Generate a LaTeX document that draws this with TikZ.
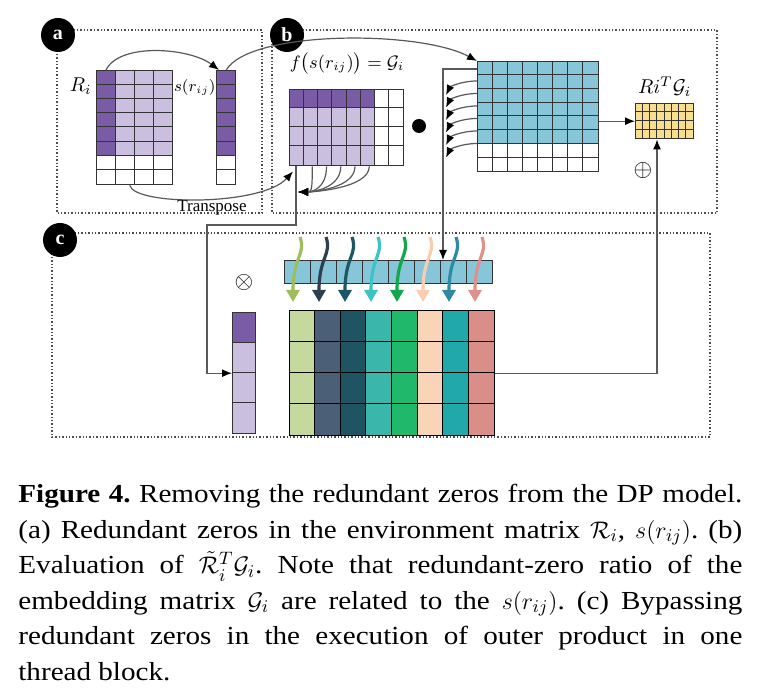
\documentclass[tikz,border=0pt]{standalone}
\usepackage{amsmath,amssymb}
\usepackage{fontspec}
\setmainfont{Liberation Serif}
\newfontfamily\capfont{Liberation Serif}[FakeStretch=1.12]
\usetikzlibrary{arrows.meta, positioning, calc}

\newcommand{\capline}[1]{\makebox[362pt][s]{#1}}

\definecolor{dpurple}{HTML}{7A5BA6}
\definecolor{lpurple}{HTML}{CBBFE0}
\definecolor{cellblue}{HTML}{86C6D8}
\definecolor{cellyel}{HTML}{F7DF8F}
\definecolor{gridc}{HTML}{333333}
% flow arrows
\definecolor{fa}{HTML}{9DBE5A}
\definecolor{fb}{HTML}{2F3F52}
\definecolor{fc}{HTML}{1F5664}
\definecolor{fd}{HTML}{3CC3C3}
\definecolor{fe}{HTML}{10A84A}
\definecolor{ff}{HTML}{F9CDB0}
\definecolor{fg}{HTML}{2E8AA3}
\definecolor{fh}{HTML}{E0908A}
% outer product columns
\definecolor{ca}{HTML}{C5D89E}
\definecolor{cb}{HTML}{4B6077}
\definecolor{cc}{HTML}{1F5562}
\definecolor{cd}{HTML}{3BB6AA}
\definecolor{ce}{HTML}{20B96B}
\definecolor{cf}{HTML}{FAD4B6}
\definecolor{cg}{HTML}{21A8A8}
\definecolor{ch}{HTML}{D98F88}

\begin{document}
\begin{tikzpicture}[x=0.5pt, y=-0.5pt,
    panel/.style={densely dotted, draw=black!70, line width=0.7pt},
    tag/.style={circle, fill=black, text=white, font=\bfseries\fontsize{10}{10}\selectfont, minimum size=17pt, inner sep=0pt},
    mat/.style={draw=gridc, line width=0.7pt, inner sep=0pt, anchor=north west},
    cell/.style={draw=gridc, line width=0.5pt},
    arrow/.style={-{Latex[length=5pt, width=4pt, color=black]}, draw=black!65, line width=0.6pt},
    lbl/.style={font=\fontsize{9}{11}\selectfont, inner sep=1pt},
    flow/.style={line width=1.6pt, -{Triangle[length=6pt, width=6.5pt]}}]

    \useasboundingbox (0,0) rectangle (766,694);

    % panels
    \draw[panel] (57,30) rectangle (262,213);
    \draw[panel] (272,30) rectangle (717,213);
    \draw[panel] (52,233) rectangle (710,437);
    \node[tag] (ta) at (58,35) {a};
    \node[tag] (tb) at (287,35) {b};
    \node[tag] (tc) at (60,240) {c};

    % (a) R_i and s(r_ij)
    \fill[dpurple] (96,70) rectangle (115,155.5);
    \fill[lpurple] (115,70) rectangle (172,155.5);
    \foreach \x in {115,134,153} \draw[cell] (\x,70) -- (\x,184);
    \foreach \k in {1,...,7} \draw[cell] (96,{70+14.25*\k}) -- (172,{70+14.25*\k});
    \node[mat, minimum width=38pt, minimum height=57pt] (Ri) at (96,70) {};
    \node[lbl, font=\fontsize{10}{12}\selectfont, anchor=east] (RiL) at (94,86) {$R_i$};

    \fill[dpurple] (216,70) rectangle (235,155.5);
    \foreach \k in {1,...,7} \draw[cell] (216,{70+14.25*\k}) -- (235,{70+14.25*\k});
    \node[mat, minimum width=9.5pt, minimum height=57pt] (sr) at (216,70) {};
    \node[lbl, font=\fontsize{7.8}{10}\selectfont, inner sep=0pt, anchor=east] (srL) at (216,88) {$s(r_{ij})$};

    % (b) G_i
    \fill[dpurple] (289,89) rectangle (374.5,108);
    \fill[lpurple] (289,108) rectangle (374.5,165);
    \foreach \k in {1,...,7} \draw[cell] ({289+14.25*\k},89) -- ({289+14.25*\k},165);
    \foreach \k in {1,2,3} \draw[cell] (289,{89+19*\k}) -- (403,{89+19*\k});
    \node[mat, minimum width=57pt, minimum height=38pt] (Gm) at (289,89) {};
    \node[lbl] (GmL) at (347,64) {$f\bigl(s(r_{ij})\bigr)=\mathcal{G}_i$};
    \foreach \k in {1,...,5}
        \draw[arrow] ($(Gm.south west)+({9+14.25*\k},0)$) .. controls ++(0,22) and (312,192) .. (298,192);

    \node[circle, fill=black, minimum size=7pt, inner sep=0pt] (dot) at (419,126) {};

    % (b) embedding matrix
    \fill[cellblue] (477,61) rectangle (598,143.5);
    \foreach \k in {1,...,7} \draw[cell] ({477+15.125*\k},61) -- ({477+15.125*\k},171);
    \foreach \k in {1,...,7} \draw[cell] (477,{61+13.75*\k}) -- (598,{61+13.75*\k});
    \node[mat, minimum width=60.5pt, minimum height=55pt] (Bm) at (477,61) {};
    \foreach \k in {0,...,5}
        \draw[arrow] ($(Bm.north west)+(0,{20+12.5*\k})$) .. controls ++(-16,0) and ++(4,-8) .. ++(-31,14);

    % (a) connectors
    \draw[arrow] ($(Ri.north west)+(10,0)$) .. controls (120,42) and (190,48) .. ($(sr.north west)+(3,0)$);
    \draw[arrow] (sr.north) .. controls (250,30) and (420,30) .. (Bm.north west);
    \draw[arrow] ($(Ri.south)+(-5,0)$) .. controls (135,206) and (262,206) .. ($(Gm.south west)+(4,5)$);
    \node[lbl, font=\fontsize{8.5}{10}\selectfont] (trL) at (212,208) {Transpose};

    % (b) result R_i^T G_i
    \fill[cellyel] (635,103) rectangle (693,138);
    \foreach \k in {1,...,7} \draw[cell] ({635+7.25*\k},103) -- ({635+7.25*\k},138);
    \foreach \k in {1,2,3} \draw[cell] (635,{103+8.75*\k}) -- (693,{103+8.75*\k});
    \node[mat, minimum width=29pt, minimum height=17.5pt] (Ym) at (635,103) {};
    \node[lbl, font=\fontsize{10}{12}\selectfont, above=2pt of Ym] (YmL) {$Ri^T\mathcal{G}_i$};
    \draw[arrow] (Bm.east |- Ym.west) -- (Ym.west);
    \node[font=\fontsize{12}{12}\selectfont, inner sep=0pt] (plus) at (643,171) {$\oplus$};

    % (c) purple column
    \fill[dpurple] (232,312) rectangle (255,342.25);
    \fill[lpurple] (232,342.25) rectangle (255,433);
    \foreach \k in {1,2,3} \draw[cell] (232,{312+30.25*\k}) -- (255,{312+30.25*\k});
    \node[mat, minimum width=11.5pt, minimum height=60.5pt] (Pc) at (232,312) {};
    \node[font=\fontsize{12}{12}\selectfont, inner sep=0pt] (times) at (244,283) {$\otimes$};

    % (c) row bar
    \fill[cellblue] (284,260) rectangle (492,283);
    \foreach \k in {1,...,7} \draw[cell] ({284+26*\k},260) -- ({284+26*\k},283);
    \node[mat, minimum width=104pt, minimum height=11.5pt] (Bar) at (284,260) {};

    % (c) outer product
    \foreach \k/\col in {0/ca,1/cb,2/cc,3/cd,4/ce,5/cf,6/cg,7/ch}
        \fill[\col] ({289+25.625*\k},310) rectangle ++(25.625,125);
    \foreach \k in {1,...,7} \draw[cell, draw=black] ({289+25.625*\k},310) -- ({289+25.625*\k},435);
    \foreach \k in {1,2,3} \draw[cell, draw=black] (289,{310+31.25*\k}) -- (494,{310+31.25*\k});
    \node[mat, draw=black, minimum width=102.5pt, minimum height=62.5pt] (Cm) at (289,310) {};

    \foreach \k/\col in {0/fa,1/fb,2/fc,3/fd,4/fe,5/ff,6/fg,7/fh}
        \draw[flow, \col] ({300+26*\k},237) .. controls ({306+26*\k},255) and ({293+26*\k},256) .. ({293+26*\k},302);

    % connectors between panels
    \draw[arrow] ($(Gm.south west)+(7,0)$) |- (207,225) coordinate (bend) |- (Pc.west);
    \draw[arrow] ($(Bm.north west)+(0,8)$) -| ($(Bar.north west)+(159,0)$);
    \draw[arrow] (Cm.east) -| ($(Ym.south west)+(22,0)$);

    % caption
    \node[anchor=north west, inner sep=0pt, align=left,
          font=\capfont\fontsize{13}{17.75}\selectfont\frenchspacing] (cap) at (18,484)
        {\capline{\textbf{Figure 4.} Removing the redundant zeros from the DP model.}\\
         \capline{(a) Redundant zeros in the environment matrix $\mathcal{R}_i$, $s(r_{ij})$. (b)}\\
         \capline{Evaluation of $\tilde{\mathcal{R}}_i^{T}\mathcal{G}_i$. Note that redundant-zero ratio of the}\\
         \capline{embedding matrix $\mathcal{G}_i$ are related to the $s(r_{ij})$. (c) Bypassing}\\
         \capline{redundant zeros in the execution of outer product in one}\\
         thread block.};
\end{tikzpicture}
\end{document}
